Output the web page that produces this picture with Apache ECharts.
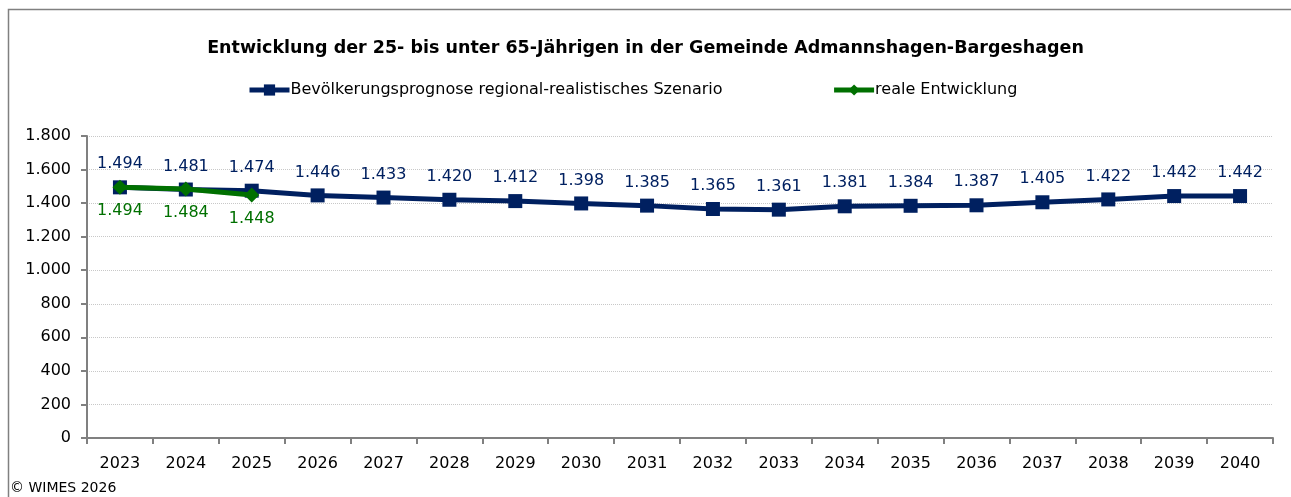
<!DOCTYPE html>
<html>
<head>
<meta charset="utf-8">
<script src="https://cdn.jsdelivr.net/npm/echarts@6/dist/echarts.min.js"></script>
<style>
    html, body { margin: 0; padding: 0; background: #fff; }
    #chart { width: 1291px; height: 497px; }
</style>
</head>
<body>
<div id="chart"></div>
<script>
const years = ["2023", "2024", "2025", "2026", "2027", "2028", "2029", "2030", "2031",
    "2032", "2033", "2034", "2035", "2036", "2037", "2038", "2039", "2040"];
const prognose = [1494, 1481, 1474, 1446, 1433, 1420, 1412, 1398, 1385,
    1365, 1361, 1381, 1384, 1387, 1405, 1422, 1442, 1442];
const real = [1494, 1484, 1448];

const fontFamily = "Verdana, 'DejaVu Sans', sans-serif";

function fmt(v) {
    return String(v).replace(/\B(?=(\d{3})+(?!\d))/g, ".");
}

const chart = echarts.init(document.getElementById("chart"));
chart.setOption({
    animation: false,
    textStyle: { fontFamily: fontFamily },
    title: {
        text: "Entwicklung der 25- bis unter 65-Jährigen in der Gemeinde Admannshagen-Bargeshagen",
        left: "center",
        top: 34,
        textStyle: { fontSize: 17.5, fontWeight: "bold", color: "#000", fontFamily: fontFamily }
    },
    legend: {
        top: 77,
        left: 242,
        itemGap: 109,
        itemWidth: 40,
        itemHeight: 14,
        textStyle: { fontSize: 16, color: "#000", padding: [0, 0, 0, -4] },
        data: [
            {
                name: "Bevölkerungsprognose regional-realistisches Szenario",
                lineStyle: { width: 5 }
            },
            {
                name: "reale Entwicklung",
                lineStyle: { width: 5 }
            }
        ]
    },
    grid: { left: 87, right: 18, top: 136, bottom: 59 },
    xAxis: {
        type: "category",
        data: years,
        boundaryGap: true,
        axisLine: { lineStyle: { color: "#808080", width: 2 } },
        axisTick: { show: true, length: 6, lineStyle: { color: "#808080", width: 2 } },
        axisLabel: { fontSize: 16, color: "#000", margin: 18 }
    },
    yAxis: {
        type: "value",
        min: 0,
        max: 1800,
        interval: 200,
        axisLine: { show: true, lineStyle: { color: "#808080", width: 2 } },
        axisTick: { show: true, length: 6, lineStyle: { color: "#808080", width: 2 } },
        axisLabel: { fontSize: 16, color: "#000", margin: 16, formatter: fmt },
        splitLine: { lineStyle: { color: "#c8c8c8", type: "dotted", width: 1 } }
    },
    series: [
        {
            name: "Bevölkerungsprognose regional-realistisches Szenario",
            type: "line",
            data: prognose,
            symbol: "rect",
            symbolSize: 14,
            z: 2,
            lineStyle: { color: "#002060", width: 5 },
            itemStyle: { color: "#002060" },
            label: {
                show: true,
                position: "top",
                distance: 8,
                fontSize: 16,
                color: "#002060",
                formatter: p => fmt(p.value)
            }
        },
        {
            name: "reale Entwicklung",
            type: "line",
            data: real,
            symbol: "diamond",
            symbolSize: 15,
            z: 3,
            lineStyle: { color: "#007000", width: 5 },
            itemStyle: { color: "#007000" },
            label: {
                show: true,
                position: "bottom",
                distance: 8,
                fontSize: 16,
                color: "#007000",
                formatter: p => fmt(p.value)
            }
        }
    ],
    graphic: [
        {
            type: "rect",
            shape: { x: 8.5, y: 9.5, width: 1290, height: 500 },
            style: { fill: "none", stroke: "#808080", lineWidth: 1.5 },
            silent: true
        },
        {
            type: "text",
            left: 10,
            top: 481,
            style: { text: "© WIMES 2026", fontSize: 14, fill: "#000", fontFamily: fontFamily }
        }
    ]
});
window.addEventListener("resize", () => chart.resize());
</script>
</body>
</html>
